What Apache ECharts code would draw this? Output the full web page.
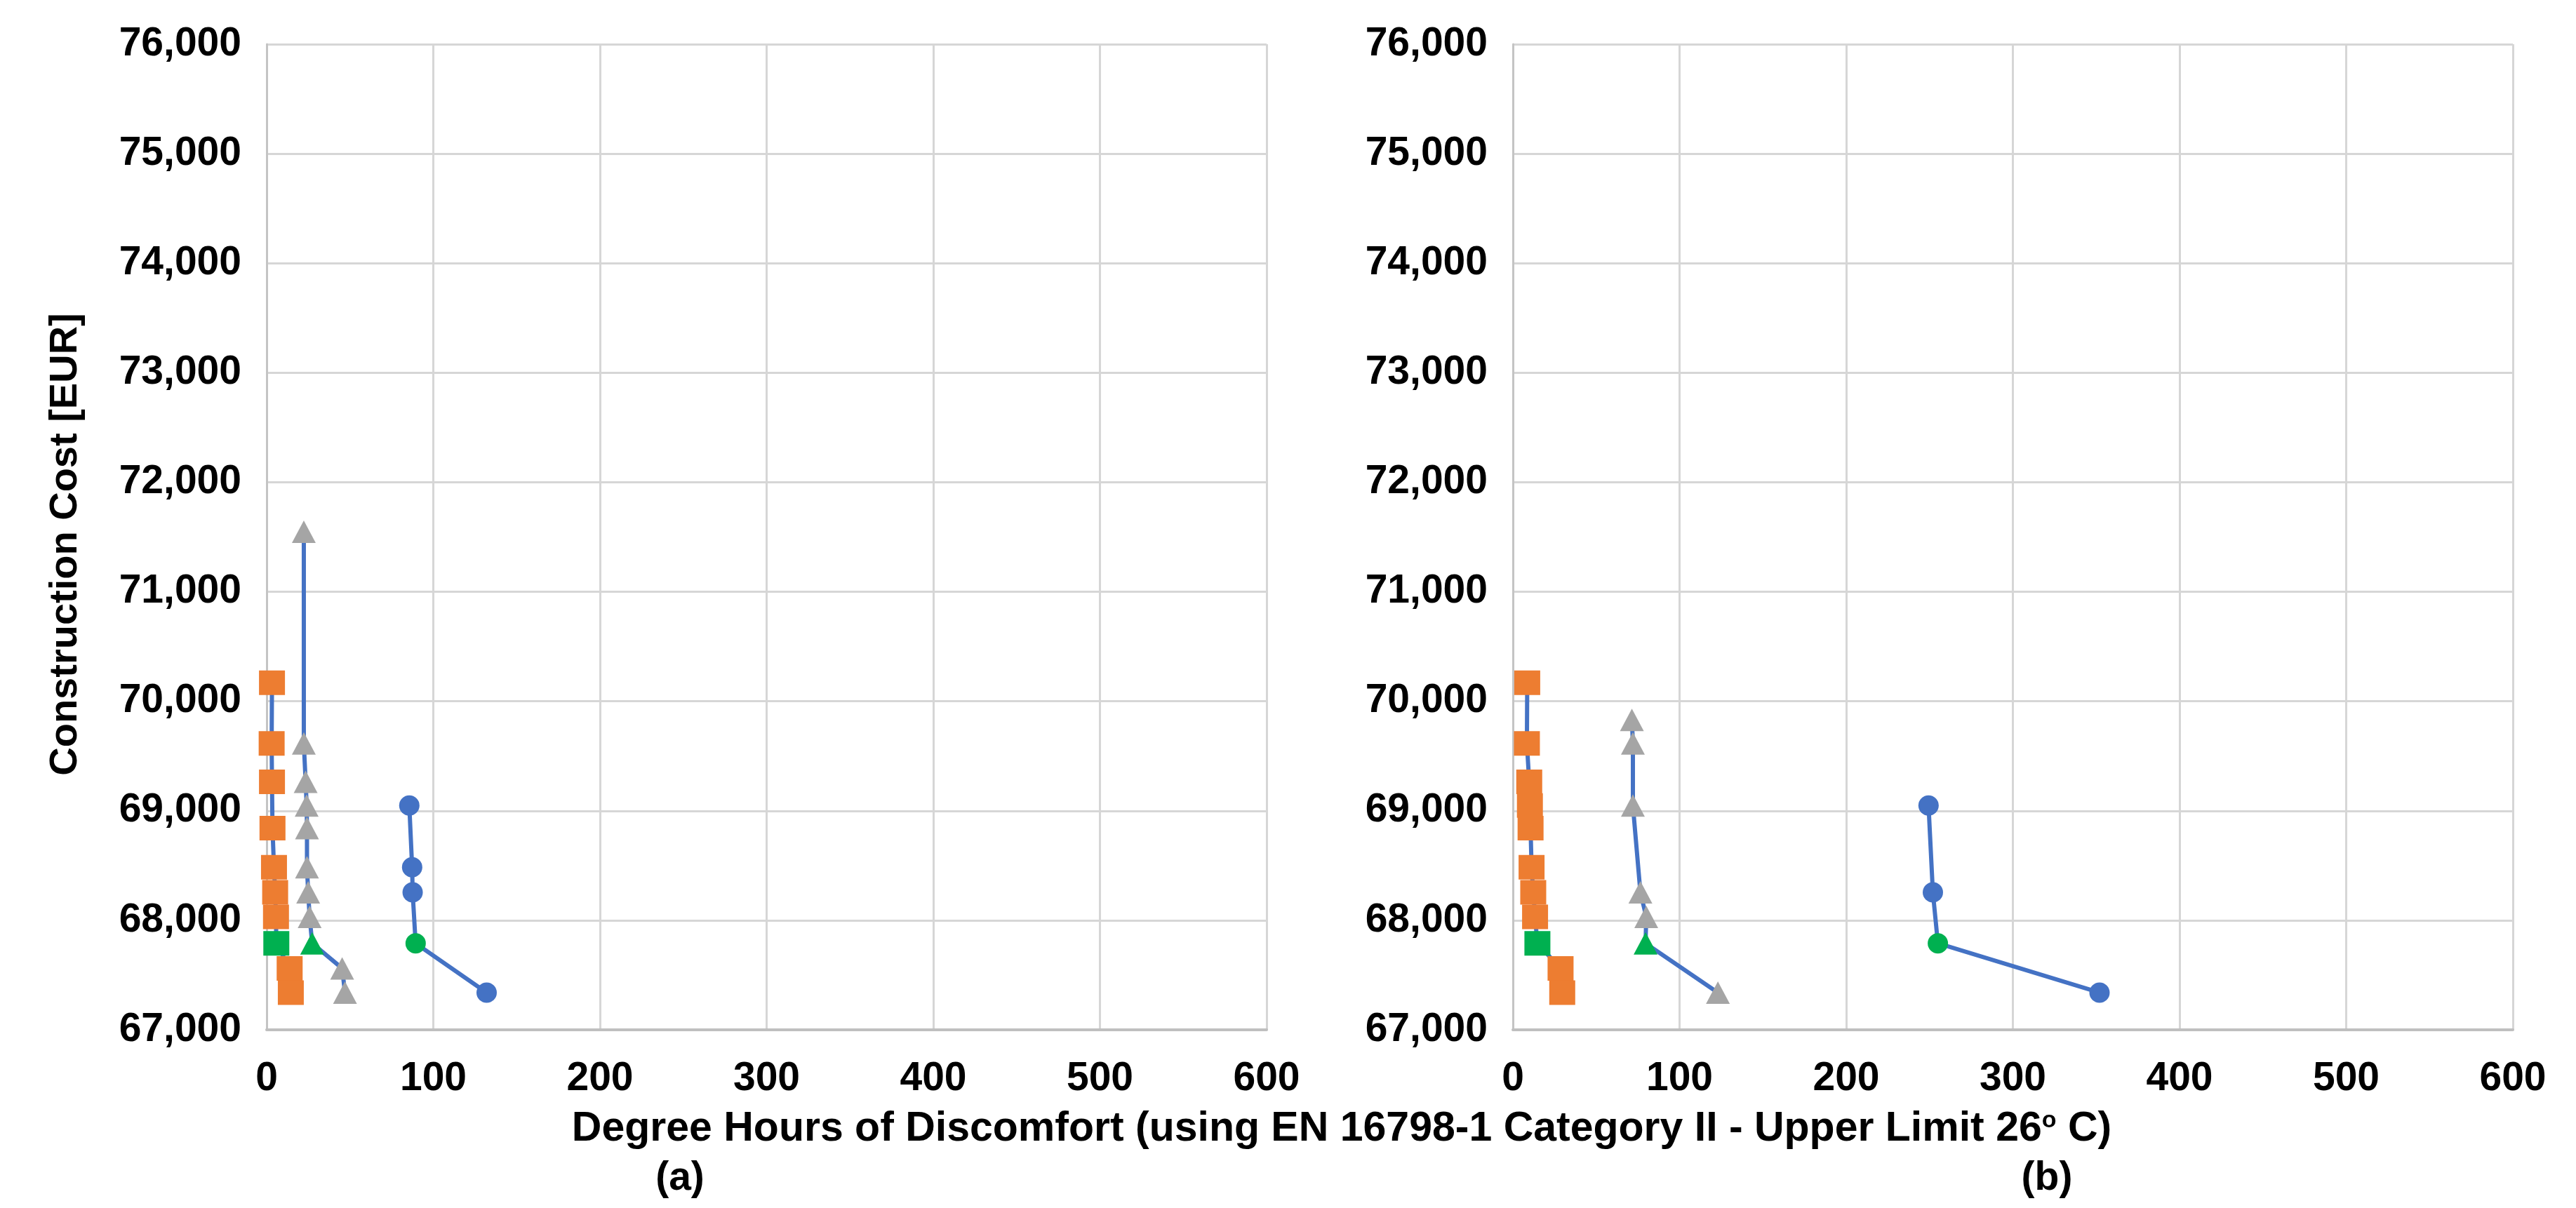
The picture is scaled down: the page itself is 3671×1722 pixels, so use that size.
<!DOCTYPE html>
<html>
<head>
<meta charset="utf-8">
<script src="https://cdn.jsdelivr.net/npm/echarts@6/dist/echarts.min.js"></script>
<style>
html,body{margin:0;padding:0;background:#fff;}
#chart{width:3671px;height:1722px;}
</style>
</head>
<body>
<div id="chart"></div>
<script>
// ---- Data ----
// Panel (a)
const orangeA_x = [3.2, 3.0, 3.2, 3.5, 4.4, 5.1, 5.6, 5.8, 13.8, 14.5];
const orangeA_y = [70170, 69615, 69264, 68841, 68484, 68255, 68032, 67790, 67561, 67340];
const orangeA_green = 7;
const grayA_x = [22.3, 22.3, 23.4, 24.0, 24.2, 24.2, 24.9, 25.8, 27.3, 45.3, 47.0];
const grayA_y = [71548, 69615, 69264, 69048, 68841, 68484, 68255, 68032, 67790, 67561, 67340];
const grayA_green = 8;
const blueA_x = [85.6, 87.3, 87.6, 89.4, 132];
const blueA_y = [69048, 68484, 68255, 67790, 67340];
const blueA_green = 3;
// Panel (b)
const orangeB_x = [8.6, 8.4, 9.8, 10.2, 10.6, 11.2, 12.2, 13.3, 14.7, 28.6, 29.6];
const orangeB_y = [70170, 69615, 69264, 69048, 68841, 68484, 68255, 68032, 67790, 67561, 67340];
const orangeB_green = 8;
const grayB_x = [71.4, 72, 72, 76.5, 80.0, 79.6, 123];
const grayB_y = [69830, 69615, 69048, 68255, 68032, 67790, 67340];
const grayB_green = 5;
const blueB_x = [249.4, 252, 255, 352];
const blueB_y = [69048, 68255, 67790, 67340];
const blueB_green = 2;

// Axis ticks
const xTicks = [0, 100, 200, 300, 400, 500, 600];
const yTicks = [67000, 68000, 69000, 70000, 71000, 72000, 73000, 74000, 75000, 76000];

const xTitle = 'Degree Hours of Discomfort (using EN 16798-1 Category II - Upper Limit 26{sup|o} C)';
const yTitle = 'Construction Cost [EUR]';
const panelLabels = ['(a)', '(b)'];

// ---- Styles ----
const FONT = '"Liberation Sans", Arial, sans-serif';
const ORANGE = '#ED7D31', GRAY = '#A5A5A5', BLUE = '#4472C4', GREEN = '#00B050', LINE = '#4472C4';

function build(xs, ys, greenIdx) {
  return xs.map((x, i) => i === greenIdx
    ? { value: [x, ys[i]], itemStyle: { color: GREEN } }
    : [x, ys[i]]);
}

function mkSeries(idx, xs, ys, g, symbol, size, color) {
  return {
    type: 'line', xAxisIndex: idx, yAxisIndex: idx,
    data: build(xs, ys, g),
    symbol: symbol, symbolSize: size, showSymbol: true,
    itemStyle: { color: color, opacity: 1 },
    lineStyle: { color: LINE, width: 6 },
    emphasis: { disabled: true },
    animation: false
  };
}

const grids = [
  { left: 380, top: 63, width: 1425, height: 1405 },
  { left: 2156, top: 63, width: 1425, height: 1405 }
];

function xAxis(i) {
  return {
    type: 'value', gridIndex: i, min: xTicks[0], max: xTicks[xTicks.length - 1],
    interval: xTicks[1] - xTicks[0],
    axisLine: { show: true, lineStyle: { color: '#BFBFBF', width: 4 } },
    axisTick: { show: false },
    splitLine: { show: true, lineStyle: { color: '#D6D6D6', width: 3 } },
    axisLabel: { color: '#000', fontFamily: FONT, fontWeight: 'bold', fontSize: 57, margin: 42 }
  };
}
function yAxis(i) {
  return {
    type: 'value', gridIndex: i, min: yTicks[0], max: yTicks[yTicks.length - 1],
    interval: yTicks[1] - yTicks[0],
    axisLine: { show: true, lineStyle: { color: '#C4C4C4', width: 3 } },
    axisTick: { show: false },
    splitLine: { show: true, lineStyle: { color: '#D6D6D6', width: 3 } },
    axisLabel: {
      color: '#000', fontFamily: FONT, fontWeight: 'bold', fontSize: 57, margin: 36,
      formatter: v => v.toLocaleString('en-US')
    }
  };
}

const chart = echarts.init(document.getElementById('chart'), null, { renderer: 'canvas' });
chart.setOption({
  backgroundColor: '#fff',
  animation: false,
  grid: grids,
  xAxis: [xAxis(0), xAxis(1)],
  yAxis: [yAxis(0), yAxis(1)],
  series: [
    mkSeries(0, blueA_x, blueA_y, blueA_green, 'circle', 29, BLUE),
    mkSeries(0, grayA_x, grayA_y, grayA_green, 'triangle', [34, 32], GRAY),
    mkSeries(0, orangeA_x, orangeA_y, orangeA_green, 'rect', [37, 35], ORANGE),
    mkSeries(1, blueB_x, blueB_y, blueB_green, 'circle', 29, BLUE),
    mkSeries(1, grayB_x, grayB_y, grayB_green, 'triangle', [34, 32], GRAY),
    mkSeries(1, orangeB_x, orangeB_y, orangeB_green, 'rect', [37, 35], ORANGE)
  ],
  graphic: [
    {
      type: 'text', x: 94, y: 776, rotation: Math.PI / 2,
      style: { text: yTitle, fill: '#000', font: 'bold 56px ' + FONT, textAlign: 'center', textVerticalAlign: 'middle' }
    },
    {
      type: 'text', x: 1912, y: 1610,
      style: {
        text: xTitle, fill: '#000', font: 'bold 59px ' + FONT, textAlign: 'center', textVerticalAlign: 'middle',
        rich: { sup: { fontSize: 34, fontWeight: 'bold', fontFamily: FONT, fill: '#000', verticalAlign: 'top', padding: [0, 0, 22, 0] } }
      }
    },
    {
      type: 'text', x: 969, y: 1680,
      style: { text: panelLabels[0], fill: '#000', font: 'bold 57px ' + FONT, textAlign: 'center', textVerticalAlign: 'middle' }
    },
    {
      type: 'text', x: 2917, y: 1680,
      style: { text: panelLabels[1], fill: '#000', font: 'bold 57px ' + FONT, textAlign: 'center', textVerticalAlign: 'middle' }
    }
  ]
});
</script>
</body>
</html>
